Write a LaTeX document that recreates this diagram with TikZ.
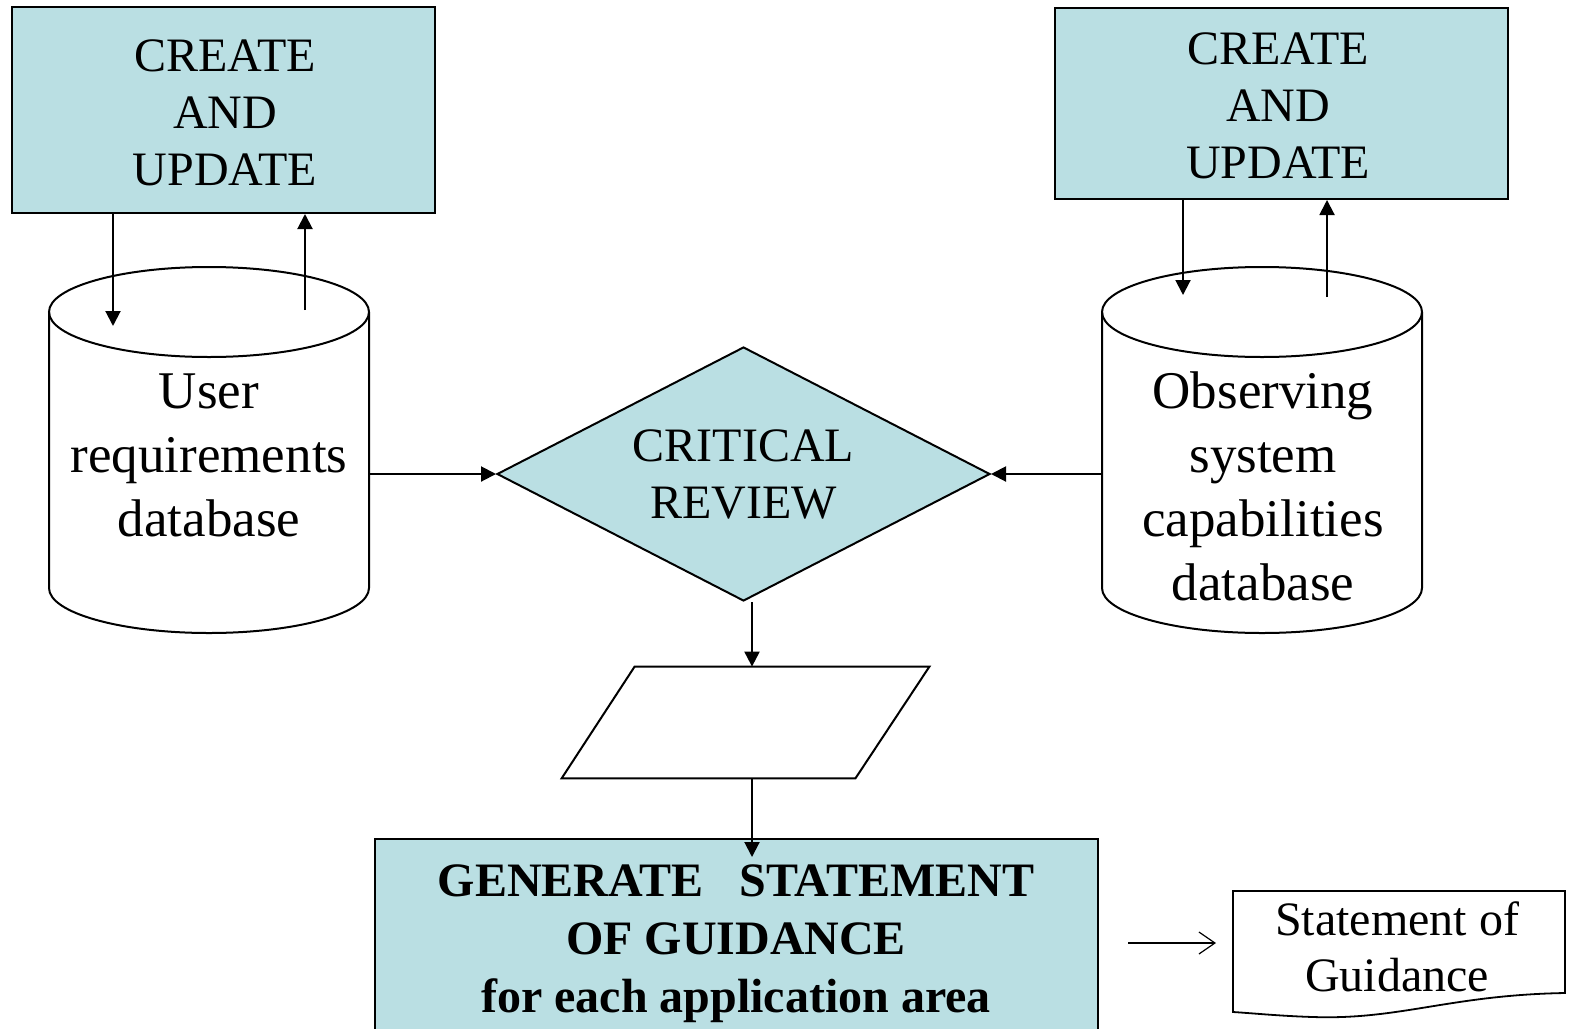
\documentclass[tikz,border=0pt]{standalone}
\usepackage{fontspec}
\setmainfont{Liberation Serif}
\usetikzlibrary{shapes.geometric,arrows.meta,calc}
\definecolor{panel}{HTML}{BADFE3}

% drum-shaped database symbol: centre x, top rim y, bottom rim y, x radius, y radius
\newcommand{\dbdrum}[5]{%
  \draw[outline,fill=white]
    ({#1-#4},#2) -- ({#1-#4},#3)
    .. controls ({#1-#4},{#3+0.5523*#5}) and ({#1-0.5523*#4},{#3+#5}) .. (#1,{#3+#5})
    .. controls ({#1+0.5523*#4},{#3+#5}) and ({#1+#4},{#3+0.5523*#5}) .. ({#1+#4},#3)
    -- ({#1+#4},#2);
  \draw[outline]
    ({#1-#4},#2)
    .. controls ({#1-#4},{#2-0.5523*#5}) and ({#1-0.5523*#4},{#2-#5}) .. (#1,{#2-#5})
    .. controls ({#1+0.5523*#4},{#2-#5}) and ({#1+#4},{#2-0.5523*#5}) .. ({#1+#4},#2)
    .. controls ({#1+#4},{#2+0.5523*#5}) and ({#1+0.5523*#4},{#2+#5}) .. (#1,{#2+#5})
    .. controls ({#1-0.5523*#4},{#2+#5}) and ({#1-#4},{#2+0.5523*#5}) .. ({#1-#4},#2) -- cycle;
}

\tikzset{
  outline/.style={draw=black,line width=1pt,line join=miter},
  procbox/.style={outline,fill=panel,rectangle,inner sep=0pt},
  boxtext/.style={align=center,inner sep=0pt,font=\fontsize{24}{28.5}\selectfont},
  decision/.style={outline,fill=panel,diamond,aspect=1.94,inner sep=0pt,align=center,
    font=\fontsize{24}{28.5}\selectfont},
  dbtext/.style={align=center,inner sep=0pt,font=\fontsize{26.5}{32}\selectfont},
  boldtext/.style={align=center,inner sep=0pt,font=\fontsize{24}{29}\selectfont\bfseries},
  doctext/.style={align=center,inner sep=0pt,font=\fontsize{24}{28}\selectfont},
  arr/.style={line width=1pt,-{Triangle[length=7.5pt,width=7.5pt]}},
  barb/.style={line width=0.6pt,-{Straight Barb[length=8pt,width=11pt]}},
}

\begin{document}
\begin{tikzpicture}[x=0.5pt,y=-0.5pt]
\useasboundingbox (0,0) rectangle (1572,1028);

% create / update boxes
\node[procbox,minimum width=211.5pt,minimum height=103pt] (boxL) at (223.5,110) {};
\node[boxtext] (boxLtext) at (225,113) {CREATE\\AND\\UPDATE};
\node[procbox,minimum width=226.5pt,minimum height=95.5pt] (boxR) at (1281,103.5) {};
\node[boxtext] (boxRtext) at (1278,106) {CREATE\\AND\\UPDATE};

% databases
\dbdrum{209}{312}{588}{160}{45}
\dbdrum{1262}{312}{588}{160}{45}
\node[dbtext] (dbL) at (209,455) {User\\requirements\\database};
\node[dbtext] (dbR) at (1263,486) {Observing\\system\\capabilities\\database};

% review
\node[decision,minimum width=246.5pt,minimum height=127pt] (crit) at (743.5,474) {CRITICAL\\REVIEW};

% empty input/output parallelogram
\node[inner sep=0pt,minimum width=183.5pt,minimum height=55.5pt] (para) at (745.5,722.5) {};
\draw[outline] ($(para.north west)+(73,0)$) -- (para.north east)
  -- ($(para.south east)+(-74,0)$) -- (para.south west) -- cycle;

% guidance generation
\node[procbox,minimum width=361.5pt,minimum height=105.5pt] (gen) at (736.5,944.5) {};
\node[boldtext] (gentext) at (736,944) {GENERATE\ \ \ STATEMENT\\OF GUIDANCE\\for each application area};

% output document
\draw[outline,line width=0.9pt] (1233,891) -- (1565,891) -- (1565,993)
  .. controls (1450,995) and (1400,1020) .. (1313,1017)
  .. controls (1280,1016) and (1250,1013) .. (1233,1012) -- cycle;
\node[doctext] (doc) at (1397,947) {Statement of\\Guidance};

% anchor points on the drums and the vertical spine
\coordinate (dbLin)  at (113,326);
\coordinate (dbLout) at (305,310);
\coordinate (dbRin)  at (1183,295);
\coordinate (dbRout) at (1327,297);
\coordinate (dbLside) at (369,474);
\coordinate (dbRside) at (1102,474);
\coordinate (spine) at (752,0);
\coordinate (genin) at (752,857);
\coordinate (outA) at (1128,943);
\coordinate (outB) at (1216,943);

% connectors
\draw[arr] (boxL.south -| dbLin) -- (dbLin);
\draw[arr] (dbLout) -- (boxL.south -| dbLout);
\draw[arr] (boxR.south -| dbRin) -- (dbRin);
\draw[arr] (dbRout) -- (boxR.south -| dbRout);
\draw[arr] (dbLside) -- (crit.west);
\draw[arr] (dbRside) -- (crit.east);
\draw[arr] (crit.south -| spine) -- (para.north -| spine);
\draw[arr] (para.south -| spine) -- (genin);
\draw[barb] (outA) -- (outB);
\end{tikzpicture}
\end{document}
